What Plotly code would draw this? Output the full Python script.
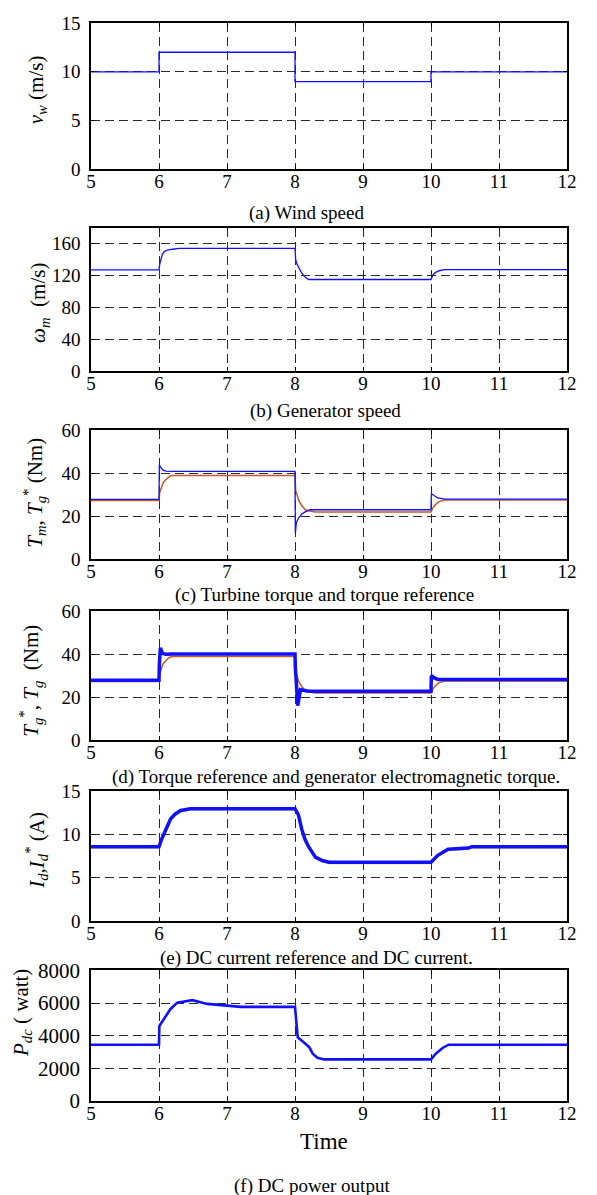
import plotly.graph_objects as go

# ---------------- data (time in s) ----------------
# (a) wind speed, m/s (step profile)
wind_t = [5, 6, 8, 10, 12]
wind_v = [10, 12, 9, 10, 10]

# (b) generator speed
speed_t = [5, 6.0, 6.01, 6.03, 6.05, 6.08, 6.12, 6.2, 6.3, 8.0, 8.01, 8.03, 8.06, 8.1, 8.15, 8.2,
           10.0, 10.03, 10.07, 10.12, 10.2, 12]
speed_v = [127, 127, 134, 141, 147, 150, 152, 153, 154, 154, 140, 134, 129, 123, 118, 115,
           115, 121, 124, 126, 127.5, 127.5]

# (c) turbine torque T_m
tm_t = [5, 6.0, 6.005, 6.03, 6.06, 6.1, 6.2, 8.0, 8.005, 8.02, 8.05, 8.1, 8.15, 8.22,
        10.0, 10.005, 10.05, 10.1, 10.2, 12]
tm_v = [27.8, 27.8, 44, 42.5, 41.5, 41, 40.9, 40.9, 12, 17, 19, 21, 22, 23,
        23, 30.5, 29.5, 28.5, 28, 28]

# torque reference T_g* (shown in (c) and (d))
tgr_t = [5, 6.0, 6.01, 6.03, 6.06, 6.1, 6.15, 6.2, 6.25, 8.0, 8.01, 8.03, 8.06, 8.1, 8.15, 8.2, 8.3,
         10.0, 10.03, 10.07, 10.12, 10.2, 12]
tgr_v = [27.3, 27.3, 31, 33, 35.5, 37, 38.5, 39, 39, 39, 32, 30, 27, 25, 23, 22.5, 22,
         22, 24, 25.5, 26.8, 27.5, 27.5]

# (d) generator electromagnetic torque T_g
tg_t = [5, 6.0, 6.005, 6.02, 6.05, 6.1, 6.2, 8.0, 8.005, 8.02, 8.04, 8.08, 8.2,
        10.0, 10.005, 10.05, 10.1, 12]
tg_v = [27.9, 27.9, 35, 43, 40.5, 40, 40.2, 40.2, 34, 24, 16, 23.5, 22.8,
        22.8, 30, 29, 28.3, 28.3]

# (e) DC current I_d and reference I_d*
id_t = [5, 6.0, 6.04, 6.08, 6.12, 6.17, 6.24, 6.32, 6.46, 8.0, 8.05, 8.1, 8.15, 8.2, 8.3, 8.4, 8.5,
        10.0, 10.1, 10.25, 10.55, 10.6, 12]
id_v = [8.6, 8.6, 9.5, 10.2, 11.0, 11.8, 12.4, 12.8, 13.0, 13.0, 12.3, 10.6, 9.4, 8.6, 7.4, 7.0, 6.8,
        6.8, 7.6, 8.3, 8.45, 8.6, 8.6]
idr_v = [8.5, 8.5, 9.4, 10.1, 10.9, 11.7, 12.3, 12.7, 12.9, 12.9, 12.2, 10.5, 9.3, 8.5, 7.3, 6.9, 6.7,
         6.7, 7.5, 8.2, 8.35, 8.5, 8.5]

# (f) DC power output, W
p_t = [5, 6.0, 6.005, 6.07, 6.17, 6.27, 6.49, 6.71, 7.0, 7.2, 8.0, 8.04, 8.1, 8.21, 8.26, 8.33, 8.43,
       10.0, 10.07, 10.17, 10.26, 12]
p_v = [3450, 3450, 4600, 5030, 5640, 6030, 6180, 5950, 5830, 5770, 5770, 3900, 3700, 3300, 2900, 2650, 2550,
       2550, 2900, 3250, 3450, 3450]

# ---------------- layout geometry ----------------
W, H = 597, 1195
L, R, T, B = 91, 567, 11, 1101

def fx(x):
    return (x - L) / (R - L)

def fy(y):
    return (B - y) / (B - T)

panels = [(11, 159), (218, 363), (423, 553), (606, 736), (788, 919), (969, 1101)]
yranges = [[0, 15], [0, 180], [0, 60], [0, 60], [0, 15], [0, 8000]]
ydticks = [5, 40, 20, 20, 5, 2000]

BLUE = "#1010FF"
ORANGE = "#C25A26"
YELLOW = "#E8C800"
FONT = "Liberation Serif, Times New Roman, serif"

fig = go.Figure()

def add(x, y, i, color, width, shape="linear"):
    ax = "" if i == 0 else str(i + 1)
    fig.add_trace(go.Scatter(x=x, y=y, mode="lines", xaxis="x" + ax, yaxis="y" + ax,
                             line=dict(color=color, width=width, shape=shape),
                             showlegend=False, hoverinfo="skip"))

add(wind_t, wind_v, 0, BLUE, 1.3, "hv")
add(speed_t, speed_v, 1, BLUE, 1.3)
add(tgr_t, tgr_v, 2, ORANGE, 1.5)
add(tm_t, tm_v, 2, BLUE, 1.3)
add(tgr_t, tgr_v, 3, ORANGE, 1.5)
add(tg_t, tg_v, 3, BLUE, 3.5)
add(id_t, idr_v, 4, YELLOW, 2)
add(id_t, id_v, 4, BLUE, 3.5)
add(p_t, p_v, 5, BLUE, 2.6)

grid = dict(showgrid=True, gridcolor="#2a2a2a", griddash="9px,5px", gridwidth=1,
            showline=True, linecolor="black", linewidth=1.5, mirror="ticks",
            ticks="inside", ticklen=4, tickcolor="black", zeroline=False)

layout = dict(width=W, height=H, margin=dict(l=L, r=W - R, t=T, b=H - B),
              plot_bgcolor="white", paper_bgcolor="white",
              font=dict(family=FONT, color="black", size=19))

for i, (top, bot) in enumerate(panels):
    ax = "" if i == 0 else str(i + 1)
    big = i == 5
    layout["xaxis" + ax] = dict(grid, domain=[0, 1], range=[5, 12], dtick=1, tick0=5,
                                anchor="y" + ax,
                                tickfont=dict(family=FONT, color="black", size=19),
                                ticklabelstandoff=-6)
    layout["yaxis" + ax] = dict(grid, domain=[fy(bot), fy(top)], range=yranges[i],
                                dtick=ydticks[i], tick0=0, anchor="x" + ax,
                                tickfont=dict(family=FONT, color="black", size=21 if big else 19),
                                ticklabelstandoff=5)

fig.update_layout(**layout)

# y-axis titles
ytitles = [
    ("<i>v</i><sub><i>w</i></sub> (m/s)", 37, 79),
    ("<i>ω</i><sub><i>m</i></sub>  (m/s)", 39, 294),
    ("<i>T</i><sub><i>m</i></sub>, <i>T</i><sub><i>g</i></sub><sup>*</sup> (Nm)", 35, 486),
    ("<i>T</i><sub><i>g</i></sub><sup>*</sup>, <i>T</i><sub><i>g</i></sub>  (Nm)", 31, 676),
    ("<i>I</i><sub><i>d</i></sub>,<i>I</i><sub><i>d</i></sub><sup>*</sup> (A)", 37, 848),
    ("<i>P</i><sub><i>dc</i></sub> ( watt)", 22, 1012),
]
for text, x, y in ytitles:
    fig.add_annotation(text=text, x=fx(x), y=fy(y), xref="paper", yref="paper",
                       textangle=-90, showarrow=False, xanchor="center", yanchor="middle",
                       font=dict(size=21, family=FONT, color="black"))

# panel captions
captions = [
    ("(a) Wind speed", 247, 203),
    ("(b) Generator speed", 248, 403),
    ("(c) Turbine torque and torque reference", 173, 589),
    ("(d) Torque reference and generator electromagnetic torque.", 110, 773),
    ("(e) DC current reference and DC current.", 158, 956),
    ("(f) DC power output", 232, 1187),
]
for text, x, y in captions:
    fig.add_annotation(text=text, x=fx(x), y=fy(y), xref="paper", yref="paper",
                       showarrow=False, xanchor="left", yanchor="middle",
                       font=dict(size=19, family=FONT, color="black"))

fig.add_annotation(text="Time", x=fx(324), y=fy(1142), xref="paper", yref="paper",
                   showarrow=False, xanchor="center", yanchor="middle",
                   font=dict(size=23, family=FONT, color="black"))

fig.write_html("out.html")
